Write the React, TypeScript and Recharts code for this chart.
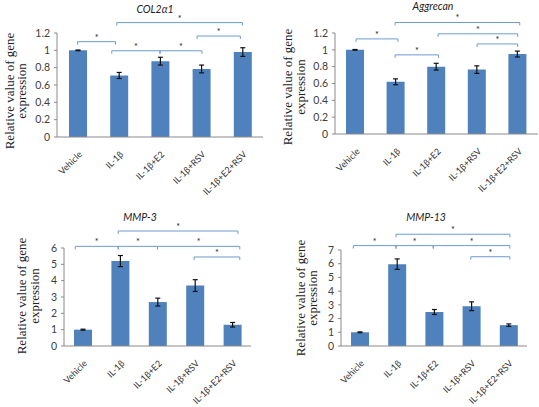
import React from 'react';
import { BarChart, Bar, XAxis, YAxis, ErrorBar, ReferenceLine } from 'recharts';

const categories = ['Vehicle', 'IL-1β', 'IL-1β+E2', 'IL-1β+RSV', 'IL-1β+E2+RSV'];

const col2Values = [1.0, 0.71, 0.875, 0.785, 0.98];
const col2Errors = [0.004, 0.035, 0.045, 0.045, 0.05];
const aggrecanValues = [1.0, 0.62, 0.8, 0.765, 0.95];
const aggrecanErrors = [0.004, 0.035, 0.04, 0.045, 0.035];
const mmp3Values = [1.0, 5.2, 2.69, 3.7, 1.3];
const mmp3Errors = [0.03, 0.34, 0.24, 0.36, 0.14];
const mmp13Values = [1.0, 5.97, 2.48, 2.9, 1.52];
const mmp13Errors = [0.03, 0.38, 0.18, 0.32, 0.09];

// significance brackets: [from index, to index, height in axis units]
const col2Brackets = [
  [0.95, 4, 1.32],
  [0, 0.92, 1.1],
  [0.83, 2, 0.995],
  [2, 3.02, 0.995],
  [2.9, 3.95, 1.165],
];
const aggrecanBrackets = [
  [0.98, 4.05, 1.325],
  [0.02, 1.05, 1.13],
  [2.04, 4, 1.19],
  [3, 4, 1.07],
  [0.98, 2.05, 0.94],
];
const mmp3Brackets = [
  [0.95, 4.15, 7.04],
  [-0.2, 0.95, 6.1],
  [0.95, 2, 6.1],
  [2, 4.2, 6.1],
  [2.98, 4.2, 5.45],
];
const mmp13Brackets = [
  [0.98, 4.04, 8.15],
  [-0.17, 0.98, 7.32],
  [0.98, 1.98, 7.32],
  [1.98, 4.04, 7.32],
  [2.99, 4.04, 6.51],
];

const ticks12 = [0, 0.2, 0.4, 0.6, 0.8, 1, 1.2];
const ticks6 = [0, 1, 2, 3, 4, 5, 6];
const ticks7 = [0, 1, 2, 3, 4, 5, 6, 7];

const BAR = '#4F81BD';
const AXIS = '#8a8a8a';
const BRACKET = '#6d9bd0';
const SANS = "Lato, 'Open Sans', sans-serif";
const SERIF = "'Liberation Serif', 'Times New Roman', serif";

const CategoryTick = ({ x, y, payload }: any) => {
  const tx = x + 5;
  const ty = y + 18;
  return (
    <text
      x={tx}
      y={ty}
      transform={`rotate(-45 ${tx} ${ty})`}
      textAnchor="end"
      fontSize={9}
      fontFamily={SANS}
      fill="#333"
    >
      {categories[payload.value]}
    </text>
  );
};

interface Box {
  left: number;
  top: number;
  width: number;
  height: number;
  plotTop: number;
  right: number;
  yAxisWidth: number;
  xAxisHeight: number;
  titleX: number;
  titleY: number;
  labelX1: number;
  labelX2: number;
  labelY: number;
}

interface PanelProps {
  title: string;
  values: number[];
  errors: number[];
  brackets: number[][];
  yMax: number;
  yTicks: number[];
  box: Box;
}

function Panel({ title, values, errors, brackets, yMax, yTicks, box }: PanelProps) {
  const data = categories.map((name, i) => ({ idx: i, name, value: values[i], err: errors[i] }));

  return (
    <div style={{ position: 'absolute', left: box.left, top: box.top, width: box.width, height: box.height }}>
      <BarChart
        width={box.width}
        height={box.height}
        data={data}
        margin={{ top: box.plotTop, right: box.right, left: 0, bottom: 0 }}
      >
        {/* tick marks between categories, as in the original */}
        <XAxis
          xAxisId="grid"
          type="number"
          dataKey="idx"
          domain={[-0.5, 4.5]}
          ticks={[-0.5, 0.5, 1.5, 2.5, 3.5, 4.5]}
          height={0}
          axisLine={false}
          tickLine={{ stroke: AXIS }}
          tickSize={4}
          tickFormatter={() => ''}
        />
        <XAxis
          xAxisId="main"
          type="number"
          dataKey="idx"
          domain={[-0.5, 4.5]}
          ticks={[0, 1, 2, 3, 4]}
          interval={0}
          height={box.xAxisHeight}
          axisLine={{ stroke: AXIS }}
          tickLine={false}
          tickSize={0}
          tickMargin={0}
          tick={<CategoryTick />}
        />
        <YAxis
          domain={[0, yMax]}
          ticks={yTicks}
          interval={0}
          width={box.yAxisWidth}
          axisLine={{ stroke: AXIS }}
          tickLine={{ stroke: AXIS }}
          tickSize={3}
          tickMargin={4}
          tick={{ fontSize: 10.5, fontFamily: SANS, fill: '#404040' }}
        />
        <Bar xAxisId="main" dataKey="value" fill={BAR} barSize={18} isAnimationActive={false}>
          <ErrorBar dataKey="err" width={2.5} stroke="#111" strokeWidth={1.2} direction="y" />
        </Bar>
        {brackets.map((b, i) => (
          <ReferenceLine
            key={i}
            xAxisId="main"
            segment={[
              { x: b[0], y: b[2] },
              { x: b[1], y: b[2] },
            ]}
            ifOverflow="visible"
            stroke={BRACKET}
            shape={(p: any) => (
              <path
                d={`M${p.x1},${p.y1 + 3}V${p.y1}H${p.x2}V${p.y2 + 3}`}
                stroke={BRACKET}
                strokeWidth={1}
                fill="none"
              />
            )}
            label={{ value: '*', position: 'top', offset: 1, fontSize: 9, fill: '#222', fontFamily: SANS }}
          />
        ))}
      </BarChart>
      <svg
        width={box.width}
        height={box.height}
        style={{ position: 'absolute', left: 0, top: 0, pointerEvents: 'none' }}
      >
        <text
          x={box.titleX}
          y={box.titleY}
          textAnchor="middle"
          fontSize={10.5}
          fontStyle="italic"
          fontFamily={SANS}
          fill="#222"
        >
          {title}
        </text>
        <g fontFamily={SERIF} fontSize={13} fill="#222" textAnchor="middle">
          <text x={box.labelX1} y={box.labelY} transform={`rotate(-90 ${box.labelX1} ${box.labelY})`}>
            Relative value of gene
          </text>
          <text x={box.labelX2} y={box.labelY} transform={`rotate(-90 ${box.labelX2} ${box.labelY})`}>
            expression
          </text>
        </g>
      </svg>
    </div>
  );
}

const box1: Box = {
  left: 0, top: 0, width: 270, height: 200, plotTop: 33, right: 7, yAxisWidth: 57, xAxisHeight: 63,
  titleX: 155, titleY: 13, labelX1: 14, labelX2: 26, labelY: 91,
};
const box2: Box = {
  left: 270, top: 0, width: 269, height: 200, plotTop: 33, right: 1, yAxisWidth: 65, xAxisHeight: 66,
  titleX: 163, titleY: 10, labelX1: 22, labelX2: 35, labelY: 87,
};
const box3: Box = {
  left: 0, top: 200, width: 270, height: 207, plotTop: 48, right: 19, yAxisWidth: 64, xAxisHeight: 61,
  titleX: 140, titleY: 21, labelX1: 26, labelX2: 39, labelY: 96,
};
const box4: Box = {
  left: 270, top: 200, width: 269, height: 207, plotTop: 50, right: 12, yAxisWidth: 71, xAxisHeight: 61,
  titleX: 156, titleY: 21, labelX1: 35, labelX2: 47, labelY: 98,
};

export default function App() {
  return (
    <div style={{ position: 'relative', width: 539, height: 407, background: '#fff' }}>
      <style>{'body{margin:0}'}</style>
      <Panel title="COL2α1" values={col2Values} errors={col2Errors} brackets={col2Brackets} yMax={1.2} yTicks={ticks12} box={box1} />
      <Panel title="Aggrecan" values={aggrecanValues} errors={aggrecanErrors} brackets={aggrecanBrackets} yMax={1.2} yTicks={ticks12} box={box2} />
      <Panel title="MMP-3" values={mmp3Values} errors={mmp3Errors} brackets={mmp3Brackets} yMax={6} yTicks={ticks6} box={box3} />
      <Panel title="MMP-13" values={mmp13Values} errors={mmp13Errors} brackets={mmp13Brackets} yMax={7} yTicks={ticks7} box={box4} />
    </div>
  );
}
